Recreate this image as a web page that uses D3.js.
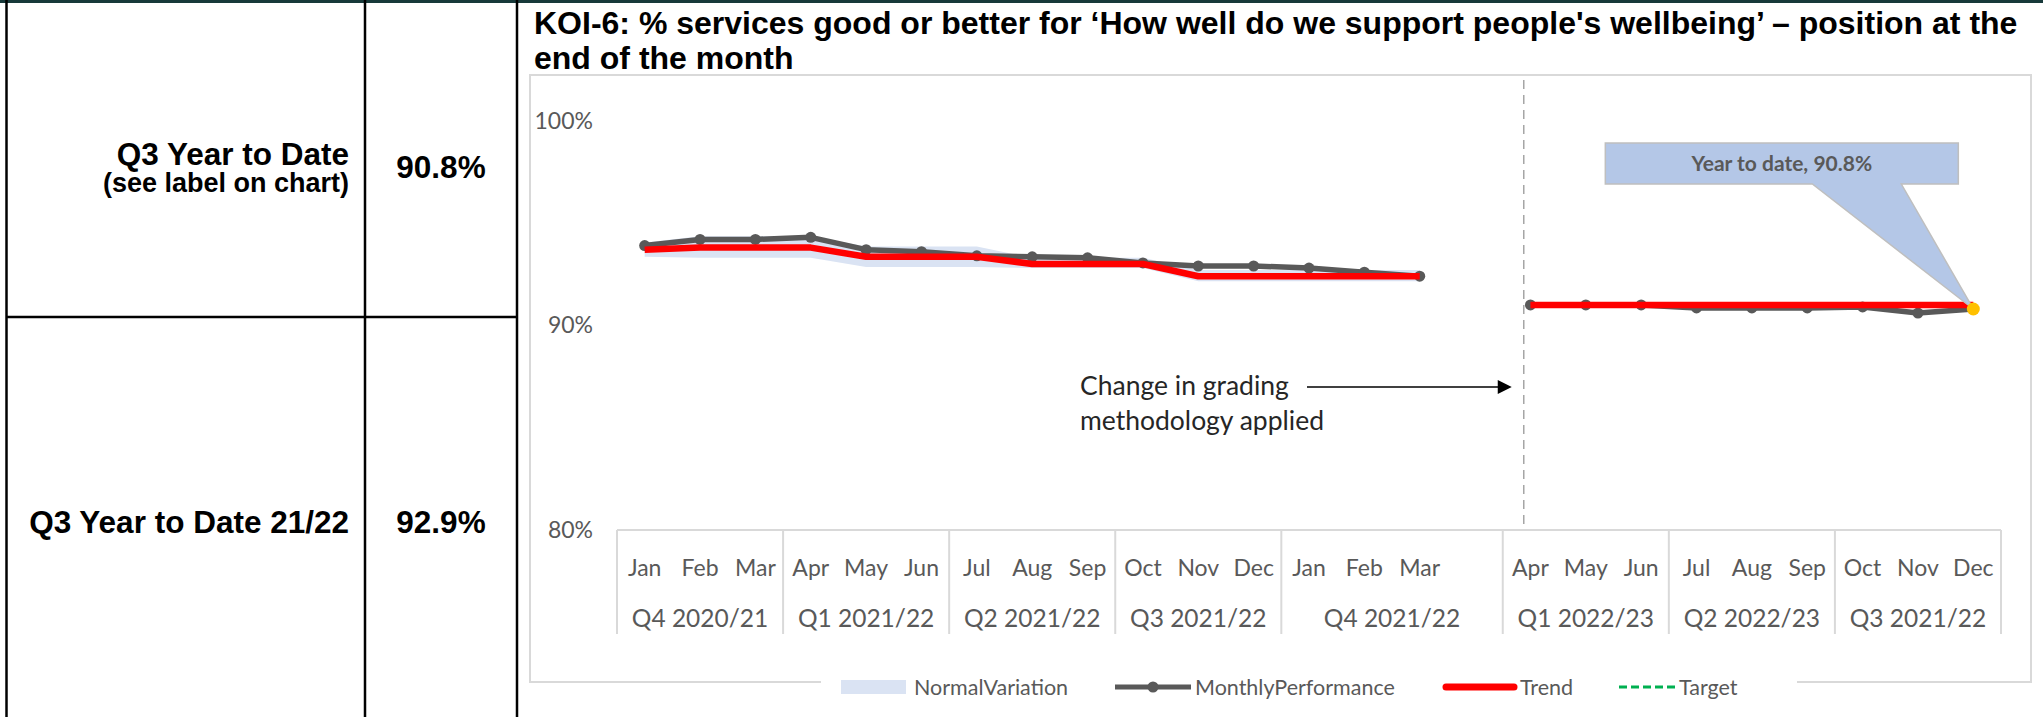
<!DOCTYPE html>
<html>
<head>
<meta charset="utf-8">
<script src="https://cdn.jsdelivr.net/npm/d3@7"></script>
<style>
  body { margin: 0; background: #fff; }
  svg { display: block; }
</style>
</head>
<body>
<svg id="chart" width="2043" height="717"></svg>
<script>
// ---- data ----
const months = ['Jan', 'Feb', 'Mar', 'Apr', 'May', 'Jun', 'Jul', 'Aug', 'Sep', 'Oct', 'Nov', 'Dec',
  'Jan', 'Feb', 'Mar', '', 'Apr', 'May', 'Jun', 'Jul', 'Aug', 'Sep', 'Oct', 'Nov', 'Dec'];
const quarters = ['Q4 2020/21', 'Q1 2021/22', 'Q2 2021/22', 'Q3 2021/22', 'Q4 2021/22',
  'Q1 2022/23', 'Q2 2022/23', 'Q3 2021/22'];
const quarterSizes = [3, 3, 3, 3, 4, 3, 3, 3];
const monthly = [93.9, 94.2, 94.2, 94.3, 93.7, 93.6, 93.4, 93.35, 93.3, 93.05, 92.9, 92.9, 92.8, 92.6, 92.4,
  null, 91.0, 91.0, 91.0, 90.85, 90.85, 90.85, 90.9, 90.6, 90.8];
const trend = [93.7, 93.8, 93.8, 93.8, 93.35, 93.35, 93.35, 93.0, 93.0, 93.0, 92.4, 92.4, 92.4, 92.4, 92.4,
  null, 91.0, 91.0, 91.0, 91.0, 91.0, 91.0, 91.0, 91.0, 91.0];
const bandUpper = [94.05, 94.35, 94.35, 94.35, 93.85, 93.85, 93.85, 93.3, 93.3, 93.3, 92.7, 92.7, 92.7, 92.7, 92.7,
  null, null, null, null, null, null, null, null, null, null];
const bandLower = [93.35, 93.3, 93.3, 93.3, 92.85, 92.85, 92.85, 92.8, 92.8, 92.8, 92.15, 92.15, 92.15, 92.15, 92.15,
  null, null, null, null, null, null, null, null, null, null];
const yearToDate = 90.8;
const yearToDateIndex = 24;
const yTicks = [80, 90, 100];
const legendNames = ['NormalVariation', 'MonthlyPerformance', 'Trend', 'Target'];
const tableLabels = ['Q3 Year to Date', 'Q3 Year to Date 21/22'];
const tableSub = '(see label on chart)';
const tableValues = ['90.8%', '92.9%'];
const title = ['KOI-6: % services good or better for \u2018How well do we support people\'s wellbeing\u2019 \u2013 position at the',
  'end of the month'];
const noteLines = ['Change in grading', 'methodology applied'];

// ---- layout ----
const svg = d3.select('#chart');
const calibri = 'Lato, "Open Sans", sans-serif';
const arial = '"Liberation Sans", Arial, sans-serif';
const grey = '#595959';
const plot = { left: 617, right: 2001, top: 120.7, bottom: 530 };

// left table
svg.append('line').attr('x1', 0).attr('x2', 2043).attr('y1', 1.5).attr('y2', 1.5)
  .attr('stroke', '#17393a').attr('stroke-width', 3);
[6.5, 365, 517].forEach(x => {
  svg.append('line').attr('x1', x).attr('x2', x).attr('y1', 0).attr('y2', 717)
    .attr('stroke', '#000').attr('stroke-width', 2.5);
});
svg.append('line').attr('x1', 6.5).attr('x2', 517).attr('y1', 317).attr('y2', 317)
  .attr('stroke', '#000').attr('stroke-width', 2.5);

const tbl = svg.append('g').attr('font-family', arial).attr('font-weight', 'bold').attr('fill', '#000');
tbl.append('text').attr('x', 349).attr('y', 165).attr('text-anchor', 'end')
  .attr('font-size', 31.5).text(tableLabels[0]);
tbl.append('text').attr('x', 349).attr('y', 192).attr('text-anchor', 'end')
  .attr('font-size', 27).text(tableSub);
tbl.append('text').attr('x', 349).attr('y', 533).attr('text-anchor', 'end')
  .attr('font-size', 31.5).text(tableLabels[1]);
tbl.append('text').attr('x', 441).attr('y', 178).attr('text-anchor', 'middle')
  .attr('font-size', 31.5).text(tableValues[0]);
tbl.append('text').attr('x', 441).attr('y', 533).attr('text-anchor', 'middle')
  .attr('font-size', 31.5).text(tableValues[1]);

// title
const titleG = svg.append('g')
  .attr('font-family', '"Liberation Sans Narrow", "Liberation Sans", Arial, sans-serif')
  .attr('font-stretch', 'condensed')
  .attr('font-weight', 'bold').attr('font-size', 32).attr('fill', '#000');
titleG.selectAll('text').data(title).join('text')
  .attr('x', 534).attr('y', (d, i) => 34 + i * 35).text(d => d);

// chart frame (bottom edge broken by the legend)
const frame = svg.append('g').attr('stroke', '#d9d9d9').attr('stroke-width', 2).attr('fill', 'none');
frame.append('path').attr('d', 'M821,682 H530 V75 H2031 V682 H1797');

// scales
const x = d3.scaleBand().domain(months.map((m, i) => i)).range([plot.left, plot.right]).padding(0);
const y = d3.scaleLinear().domain([80, 100]).range([plot.bottom, plot.top]);
const bw = x.bandwidth();
const cx = i => x(i) + bw / 2;

// y axis
const yAxis = svg.append('g').attr('transform', `translate(${plot.left},0)`)
  .call(d3.axisLeft(y).tickValues(yTicks).tickFormat(d => d + '%').tickSize(0).tickPadding(24));
yAxis.select('.domain').remove();
yAxis.selectAll('text').attr('font-family', calibri).attr('font-size', 23).attr('fill', grey);

// x axis: months
const xAxis = svg.append('g').attr('transform', `translate(0,${plot.bottom})`)
  .call(d3.axisBottom(x).tickFormat(i => months[i]).tickSize(0));
xAxis.select('.domain').remove();
xAxis.selectAll('text').attr('font-family', calibri).attr('font-size', 23).attr('fill', grey)
  .attr('y', 38).attr('dy', '0.35em');

// x axis: quarter boxes
const axisLines = svg.append('g').attr('stroke', '#d9d9d9').attr('stroke-width', 2);
axisLines.append('line').attr('x1', plot.left).attr('x2', plot.right)
  .attr('y1', plot.bottom).attr('y2', plot.bottom);
let start = 0;
const groups = quarters.map((q, k) => {
  const g = { label: q, from: start, to: start + quarterSizes[k] - 1 };
  start += quarterSizes[k];
  return g;
});
const edges = groups.map(g => x(g.from)).concat([x(groups[groups.length - 1].to) + bw]);
axisLines.selectAll('line.sep').data(edges).join('line').attr('class', 'sep')
  .attr('x1', d => d).attr('x2', d => d).attr('y1', plot.bottom).attr('y2', 634);
svg.append('g').selectAll('text').data(groups).join('text')
  .attr('x', g => (x(g.from) + x(g.to) + bw) / 2).attr('y', 618).attr('dy', '0.35em')
  .attr('text-anchor', 'middle').attr('font-family', calibri).attr('font-size', 24.5).attr('fill', grey)
  .text(g => g.label);

// series
const idx = months.map((m, i) => i);
const area = d3.area().defined(i => bandUpper[i] != null)
  .x(cx).y0(i => y(bandLower[i])).y1(i => y(bandUpper[i]));
svg.append('path').attr('d', area(idx)).attr('fill', '#dae3f3');

const line = arr => d3.line().defined(i => arr[i] != null).x(cx).y(i => y(arr[i]));
svg.append('path').attr('d', line(monthly)(idx)).attr('fill', 'none')
  .attr('stroke', grey).attr('stroke-width', 5.5).attr('stroke-linejoin', 'round');
svg.append('g').selectAll('circle').data(idx.filter(i => monthly[i] != null)).join('circle')
  .attr('cx', cx).attr('cy', i => y(monthly[i])).attr('r', 5.5).attr('fill', grey);
svg.append('path').attr('d', line(trend)(idx)).attr('fill', 'none')
  .attr('stroke', '#ff0000').attr('stroke-width', 6.5).attr('stroke-linejoin', 'round');

// methodology change marker
const changeX = x(16) + 21;
svg.append('line').attr('x1', changeX).attr('x2', changeX).attr('y1', 80).attr('y2', plot.bottom)
  .attr('stroke', '#a6a6a6').attr('stroke-width', 1.5).attr('stroke-dasharray', '9,6');
const arrowY = 387;
svg.append('line').attr('x1', 1307).attr('x2', changeX - 22).attr('y1', arrowY).attr('y2', arrowY)
  .attr('stroke', '#000').attr('stroke-width', 1.5);
svg.append('path')
  .attr('d', `M${changeX - 12},${arrowY} L${changeX - 26},${arrowY - 7} L${changeX - 26},${arrowY + 7} Z`)
  .attr('fill', '#000');
svg.append('g').selectAll('text').data(noteLines).join('text')
  .attr('x', 1080).attr('y', (d, i) => 386 + i * 35).attr('dy', '0.35em')
  .attr('font-family', calibri).attr('font-size', 26.5).attr('fill', '#262626').text(d => d);

// year to date callout
const tipX = cx(yearToDateIndex), tipY = y(yearToDate);
const boxL = tipX - 368, boxR = tipX - 15, boxT = 143, boxB = 184;
svg.append('path')
  .attr('d', `M${boxL},${boxT} H${boxR} V${boxB} H${tipX - 72} L${tipX},${tipY} L${tipX - 161},${boxB} H${boxL} Z`)
  .attr('fill', '#b4c7e7').attr('stroke', '#bfbfbf').attr('stroke-width', 1.5);
svg.append('text').attr('x', (boxL + boxR) / 2).attr('y', (boxT + boxB) / 2).attr('dy', '0.35em')
  .attr('text-anchor', 'middle').attr('font-family', calibri).attr('font-weight', 'bold')
  .attr('font-size', 21).attr('fill', grey).text('Year to date, ' + yearToDate + '%');
svg.append('circle').attr('cx', tipX).attr('cy', tipY).attr('r', 6.5).attr('fill', '#ffc000');

// legend
const lg = svg.append('g').attr('font-family', calibri).attr('font-size', 21.5).attr('fill', grey);
const ly = 687;
lg.append('rect').attr('x', 841).attr('y', ly - 7).attr('width', 65).attr('height', 14).attr('fill', '#dae3f3');
lg.append('line').attr('x1', 1115).attr('x2', 1191).attr('y1', ly).attr('y2', ly)
  .attr('stroke', grey).attr('stroke-width', 5);
lg.append('circle').attr('cx', 1153).attr('cy', ly).attr('r', 5.5).attr('fill', grey);
lg.append('line').attr('x1', 1446).attr('x2', 1514).attr('y1', ly).attr('y2', ly)
  .attr('stroke', '#ff0000').attr('stroke-width', 7).attr('stroke-linecap', 'round');
lg.append('line').attr('x1', 1619).attr('x2', 1676).attr('y1', ly).attr('y2', ly)
  .attr('stroke', '#00b050').attr('stroke-width', 3).attr('stroke-dasharray', '8,4');
lg.selectAll('text').data(legendNames).join('text')
  .attr('x', (d, i) => [914, 1195, 1520, 1679][i]).attr('y', ly).attr('dy', '0.35em').text(d => d);
</script>
</body>
</html>
